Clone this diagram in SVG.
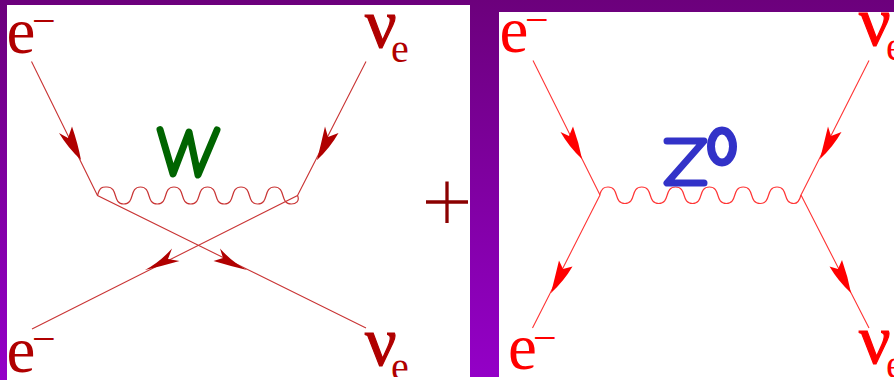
<svg xmlns="http://www.w3.org/2000/svg" width="894" height="380" viewBox="0 0 894 380">
<defs>
<linearGradient id="bg" gradientUnits="userSpaceOnUse" x1="0" y1="0" x2="0" y2="380"><stop offset="0" stop-color="#6c007c"/><stop offset="1" stop-color="#9400c8"/></linearGradient>
<clipPath id="page"><rect x="0" y="0" width="894" height="377"/></clipPath>
</defs>
<style>
.d{fill:#b00000}.r{fill:#ff0000}
.e,.m,.s,.n{font-family:"Liberation Serif","Times New Roman",serif}
.e{font-size:65px}.m{font-size:42px}.s{font-size:40px}
.n{font-size:70px}
.nd{stroke:#b00000;stroke-width:1.200}.nr{stroke:#ff0000;stroke-width:1.200}
.ld{stroke:#c93535;stroke-width:1.100;fill:none}
.lr{stroke:#ff3535;stroke-width:1.100;fill:none}
.wv{stroke-width:1.200}
.lab{fill:none;stroke-width:7;stroke-linecap:round;stroke-linejoin:round}
</style>
<rect x="0" y="0" width="470" height="380" fill="url(#bg)"/>
<rect x="470" y="0" width="424" height="377" fill="url(#bg)"/>
<rect x="7" y="5" width="463" height="375" fill="#fff"/>
<rect x="499" y="12" width="395" height="365" fill="#fff"/>
<g id="connectors">
<path class="ld" d="M31.500 61.500L97.500 195.500L366 328M366 61.500L297.500 195.500L32 329"/>
<path class="ld wv" d="M97.500 195.500C100 186 103 187 107 187c11.750 0 5 17 16.750 17s5 -17 16.750 -17s5 17 16.750 17s5 -17 16.750 -17s5 17 16.750 17s5 -17 16.750 -17s5 17 16.750 17s5 -17 16.750 -17s5 17 16.750 17s5 -17 16.750 -17s5 17 16.750 17C296 204 300 201 297.500 195.500"/>
<path class="lr" d="M533 60.500L600 195L532.500 328M869 60.500L801 195L869 328"/>
<path class="lr wv" d="M599.500 195C602 188 604 187 608 187c11.900 0 5 16.500 16.900 16.500s5 -16.500 16.900 -16.500s5 16.500 16.900 16.500s5 -16.500 16.900 -16.500s5 16.500 16.900 16.500s5 -16.500 16.900 -16.500s5 16.500 16.900 16.500s5 -16.500 16.900 -16.500s5 16.500 16.900 16.500s5 -16.500 16.900 -16.500s5 16.500 16.900 16.500C798 203.500 800 199 801 195"/>
<g class="d">
<path d="M81 160Q68 148 59 133L68 138L72 126.500Q78 144 81 160Z"/>
<path d="M317 160Q321 144 325 126.500L328 137L338.500 133Q330 148 317 160Z"/>
<path d="M145 270Q160 262 172 248.500L168 259L179.500 261Q162 266 145 270Z"/>
<path d="M247 270Q230 266 213.500 261L223 258L220 248.500Q232 262 247 270Z"/>
</g>
<g class="r">
<path d="M582 159Q569 147 560.500 132L569 136L573 126.500Q579 143 582 159Z"/>
<path d="M820 159Q824 143 828 126.500L831 136L841.500 132Q833 147 820 159Z"/>
<path d="M551 293Q555 277 559 260.500L563 269L572.500 266.500Q564 281 551 293Z"/>
<path d="M851 293Q838 281 829.500 266.500L838 269L842 260Q848 277 851 293Z"/>
</g>
</g>
<g id="e-in-w"><text class="e d" x="6.500" y="53">e</text><text class="m d" x="32" y="35">−</text></g>
<g id="nu-in-w"><text class="n d nd" x="365" y="47">ν</text><text class="s d" x="391" y="62">e</text></g>
<g id="e-out-w"><text class="e d" x="6.500" y="372">e</text><text class="m d" x="32" y="353">−</text></g>
<g id="nu-out-w" clip-path="url(#page)"><text class="n d nd" x="365" y="365">ν</text><text class="s d" x="391" y="380">e</text></g>
<g id="e-in-z"><text class="e r" x="499.500" y="52">e</text><text class="m r" x="525" y="34">−</text></g>
<g id="nu-in-z" clip-path="url(#page)"><text class="n r nr" x="859" y="45">ν</text><text class="s r" x="886" y="60">e</text></g>
<g id="e-out-z"><text class="e r" x="508" y="369">e</text><text class="m r" x="533" y="352">−</text></g>
<g id="nu-out-z" clip-path="url(#page)"><text class="n r nr" x="859" y="363">ν</text><text class="s r" x="886" y="378">e</text></g>
<g id="w-label"><path class="lab" stroke="#006400" d="M160 129.500L173 174L189 132L198 175L217 130"/></g>
<g id="z-label"><path class="lab" stroke="#3232c8" d="M667 141H704L667 183H704"/><ellipse cx="722" cy="146.500" rx="11" ry="16" fill="none" stroke="#3232c8" stroke-width="8"/></g>
<g id="plus"><path d="M426 202H468M447 181.500V223" stroke="#8b0000" stroke-width="3.300" fill="none"/></g>
</svg>
